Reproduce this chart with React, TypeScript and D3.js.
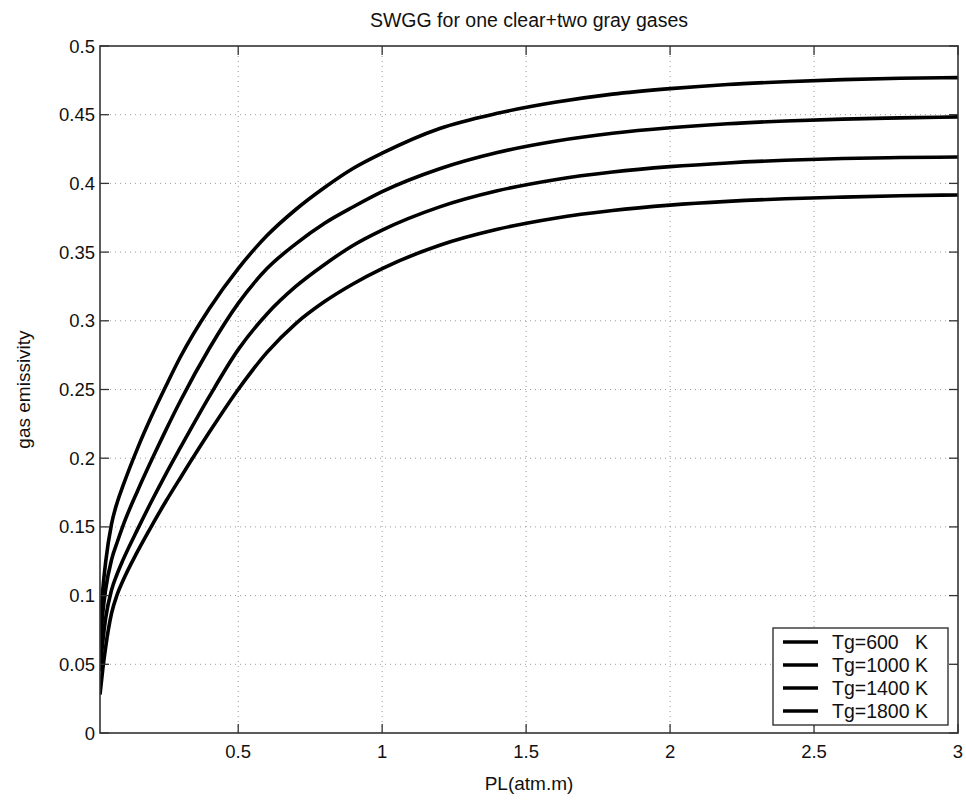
import React from "react";
import * as d3 from "d3";

const PL = [0.02, 0.03, 0.04, 0.06, 0.08, 0.1, 0.15, 0.2, 0.25, 0.3, 0.4, 0.5, 0.6, 0.7, 0.8, 0.9, 1.0, 1.2, 1.4, 1.6, 1.8, 2.0, 2.2, 2.4, 2.6, 2.8, 3.0];
const tg600 = [0.075, 0.105, 0.125, 0.152, 0.168, 0.18, 0.207, 0.231, 0.253, 0.274, 0.309, 0.338, 0.362, 0.381, 0.397, 0.411, 0.422, 0.44, 0.451, 0.459, 0.465, 0.469, 0.472, 0.474, 0.4755, 0.4765, 0.477];
const tg1000 = [0.06, 0.088, 0.105, 0.126, 0.139, 0.151, 0.176, 0.199, 0.221, 0.242, 0.28, 0.3127, 0.338, 0.356, 0.371, 0.383, 0.394, 0.4107, 0.4225, 0.4307, 0.4365, 0.4405, 0.4434, 0.4454, 0.4468, 0.4477, 0.4484];
const tg1400 = [0.045, 0.067, 0.084, 0.104, 0.116, 0.126, 0.148, 0.169, 0.189, 0.208, 0.245, 0.279, 0.305, 0.325, 0.341, 0.355, 0.366, 0.3829, 0.3946, 0.4027, 0.4083, 0.4122, 0.4149, 0.4168, 0.4181, 0.4188, 0.4192];
const tg1800 = [0.028, 0.047, 0.063, 0.087, 0.101, 0.111, 0.132, 0.151, 0.169, 0.186, 0.219, 0.25, 0.277, 0.298, 0.314, 0.327, 0.338, 0.355, 0.3666, 0.3747, 0.3803, 0.3842, 0.3869, 0.3888, 0.39, 0.391, 0.3916];

const seriesNames = ["Tg=600   K", "Tg=1000 K", "Tg=1400 K", "Tg=1800 K"];
const seriesValues = [tg600, tg1000, tg1400, tg1800];
const xTicks = [0.5, 1, 1.5, 2, 2.5, 3];
const yTicks = [0, 0.05, 0.1, 0.15, 0.2, 0.25, 0.3, 0.35, 0.4, 0.45, 0.5];

const FONT = "'Liberation Sans', Arial, Helvetica, sans-serif";

export default function App() {
  const W = 966, H = 803;
  const left = 100, right = 958, top = 46, bottom = 733;
  const x = d3.scaleLinear().domain([0.02, 3]).range([left, right]);
  const y = d3.scaleLinear().domain([0, 0.5]).range([bottom, top]);
  const line = d3.line<number>().x((_, i) => x(PL[i])).y((d) => y(d)).curve(d3.curveMonotoneX);
  const tl = 9;
  const axisColor = "#333";

  const legL = 773, legR = 948, legT = 628, legB = 725;
  const legY0 = 642, legDy = 23;

  return (
    <svg width={W} height={H} style={{ position: "absolute", left: 0, top: 0, background: "#fff" }}>
      <rect x={0} y={0} width={W} height={H} fill="#fff" />
      <defs>
        <clipPath id="clip">
          <rect x={left} y={top} width={right - left} height={bottom - top} />
        </clipPath>
      </defs>
      {/* grid */}
      {xTicks.filter((t) => t < 3).map((t) => (
        <line key={"gx" + t} x1={x(t)} x2={x(t)} y1={top} y2={bottom} stroke="#999" strokeWidth={1} strokeDasharray="1,4" />
      ))}
      {yTicks.filter((t) => t > 0 && t < 0.5).map((t) => (
        <line key={"gy" + t} x1={left} x2={right} y1={y(t)} y2={y(t)} stroke="#999" strokeWidth={1} strokeDasharray="1,4" />
      ))}
      {/* curves */}
      <g clipPath="url(#clip)">
        {seriesValues.map((s, i) => (
          <path key={i} d={line(s) || ""} fill="none" stroke="#000" strokeWidth={3.6} strokeLinejoin="round" />
        ))}
      </g>
      {/* box */}
      <rect x={left} y={top} width={right - left} height={bottom - top} fill="none" stroke={axisColor} strokeWidth={1.6} />
      {/* ticks */}
      {xTicks.map((t) => (
        <g key={"tx" + t}>
          <line x1={x(t)} x2={x(t)} y1={bottom} y2={bottom - tl} stroke={axisColor} strokeWidth={1.3} />
          <line x1={x(t)} x2={x(t)} y1={top} y2={top + tl} stroke={axisColor} strokeWidth={1.3} />
          <text x={x(t)} y={758} textAnchor="middle" fontFamily={FONT} fontSize={18.5} fill="#111">{t}</text>
        </g>
      ))}
      {yTicks.map((t) => (
        <g key={"ty" + t}>
          <line x1={left} x2={left + tl} y1={y(t)} y2={y(t)} stroke={axisColor} strokeWidth={1.3} />
          <line x1={right} x2={right - tl} y1={y(t)} y2={y(t)} stroke={axisColor} strokeWidth={1.3} />
          <text x={left - 5} y={y(t) + 6.5} textAnchor="end" fontFamily={FONT} fontSize={18.5} fill="#111">{t}</text>
        </g>
      ))}
      {/* title and labels */}
      <text x={(left + right) / 2} y={27} textAnchor="middle" fontFamily={FONT} fontSize={19.5} fill="#111">SWGG for one clear+two gray gases</text>
      <text x={(left + right) / 2} y={790} textAnchor="middle" fontFamily={FONT} fontSize={19} fill="#111">PL(atm.m)</text>
      <text transform={`translate(30,${(top + bottom) / 2}) rotate(-90)`} textAnchor="middle" fontFamily={FONT} fontSize={19} fill="#111">gas emissivity</text>
      {/* legend */}
      <rect x={legL} y={legT} width={legR - legL} height={legB - legT} fill="#fff" stroke={axisColor} strokeWidth={1.4} />
      {seriesNames.map((n, i) => (
        <g key={n}>
          <line x1={783} x2={818} y1={legY0 + i * legDy} y2={legY0 + i * legDy} stroke="#000" strokeWidth={3.6} />
          <text x={832} y={legY0 + i * legDy + 7} fontFamily={FONT} fontSize={19.5} fill="#111" style={{ whiteSpace: "pre" }} xmlSpace="preserve">{n}</text>
        </g>
      ))}
    </svg>
  );
}
